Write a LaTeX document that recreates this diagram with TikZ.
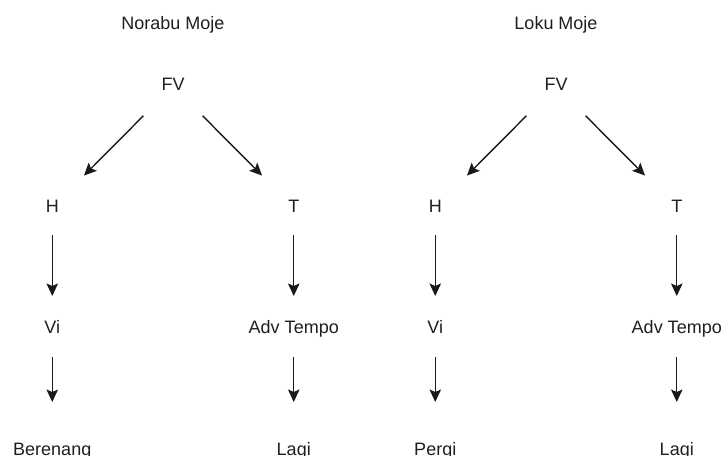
\documentclass[tikz,border=0pt]{standalone}
\usepackage{fontspec}
\setmainfont{Liberation Sans}
\usetikzlibrary{arrows.meta}

\begin{document}
\begin{tikzpicture}[
     grow = down,
     level distance = 121.5pt,
     every node/.style = {font = \fontsize{18}{20}\selectfont, text = black!88,
                          text height = 13pt, text depth = 4pt, inner sep = 0pt},
     >={Stealth[length = 12.5pt, width = 11.5pt, inset = 2.5pt]},
     edge from parent/.style = {draw, ->, line width = 1.4pt, black!90},
     edge from parent path = {(\tikzparentnode.center) -- (\tikzchildnode.center)},
     level 1/.style = {sibling distance = 241.5pt,
       edge from parent/.append style = {shorten <= 42pt, shorten >= 45pt}},
     level 2/.style = {edge from parent/.append style = {shorten <= 27.5pt, shorten >= 33pt}},
     level 3/.style = {edge from parent/.append style = {shorten <= 28pt, shorten >= 48.5pt}}
    ]
    \useasboundingbox (0pt,0pt) rectangle (722pt,-455pt);

    \node (fvL) at (173pt,-86pt) {FV}
     child {
      node (hL) {H}
       child { node (viL) {Vi}
        child { node (berenang) {Berenang} } }
     }
     child {
      node (tL) {T}
       child { node (advL) {Adv Tempo}
        child { node (lagiL) {Lagi} } }
     };

    \node [right of = fvL, node distance = 383pt] (fvR) {FV}
     child {
      node (hR) {H}
       child { node (viR) {Vi}
        child { node (pergi) {Pergi} } }
     }
     child {
      node (tR) {T}
       child { node (advR) {Adv Tempo}
        child { node (lagiR) {Lagi} } }
     };

    \node [above of = fvL, node distance = 61pt] (norabu) {Norabu Moje};
    \node [above of = fvR, node distance = 61pt] (loku) {Loku Moje};

   \end{tikzpicture}
\end{document}
